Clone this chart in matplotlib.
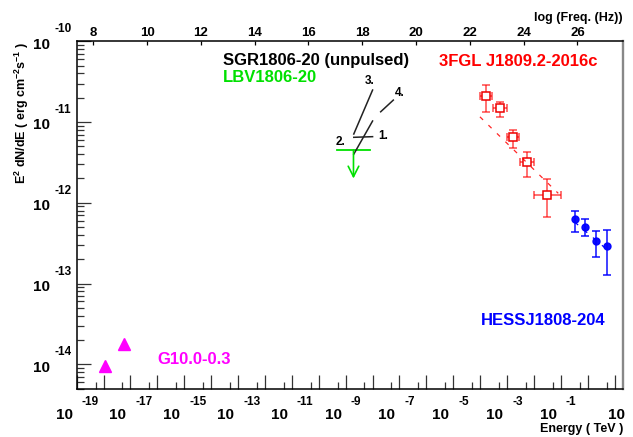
import numpy as np
import matplotlib
matplotlib.use("Agg")
import matplotlib.pyplot as plt
from matplotlib import transforms
from matplotlib.ticker import FixedLocator, NullFormatter

plt.rcParams['font.family'] = ['Liberation Sans', 'DejaVu Sans']
plt.rcParams['font.weight'] = 'bold'
plt.rcParams['mathtext.fontset'] = 'custom'
plt.rcParams['mathtext.rm'] = 'Liberation Sans:bold'
plt.rcParams['mathtext.it'] = 'Liberation Sans:bold'
plt.rcParams['mathtext.bf'] = 'Liberation Sans:bold'
plt.rcParams['mathtext.default'] = 'rm'

# energies in TeV, fluxes E^2 dN/dE in erg cm^-2 s^-1
# G10.0-0.3 (radio)
g10_e = [1.16e-18, 5.6e-18]
g10_f = [9.5e-15, 1.78e-14]

# LBV1806-20 upper limit, 0.5-8 keV
lbv_e_lo, lbv_e_hi, lbv_e = 4.9e-10, 8.0e-9, 1.95e-9
lbv_ul = 4.5e-12
lbv_tip = 2.0e-12

# SGR1806-20 unpulsed power-law segments 1..4
sgr_e_lo = [2.0e-9, 2.0e-9, 2.0e-9, 2.0e-8]
sgr_e_hi = [1.0e-8, 1.0e-8, 1.0e-8, 5.9e-8]
sgr_f_lo = [6.47e-12, 4.0e-12, 7.11e-12, 1.34e-11]
sgr_f_hi = [6.59e-12, 1.03e-11, 2.49e-11, 1.87e-11]

# 3FGL J1809.2-2016c
fgl_e = [1.6e-4, 5.44e-4, 1.61e-3, 5.36e-3, 3.12e-2]
fgl_e_lo = [1.0e-4, 3.07e-4, 9.7e-4, 3.02e-3, 1.0e-2]
fgl_e_hi = [2.75e-4, 9.66e-4, 2.84e-3, 1.0e-2, 9.8e-2]
fgl_f = [2.12e-11, 1.51e-11, 6.47e-12, 3.18e-12, 1.25e-12]
fgl_f_lo = [1.34e-11, 1.16e-11, 4.73e-12, 2.10e-12, 6.73e-13]
fgl_f_hi = [2.88e-11, 1.79e-11, 7.97e-12, 4.30e-12, 1.95e-12]
fgl_fit_e = [9.8e-5, 8.0e-2]
fgl_fit_f = [1.16e-11, 1.31e-12]

# HESS J1808-204
hess_e = [0.334, 0.767, 2.02, 5.31]
hess_f = [6.25e-13, 5.06e-13, 3.37e-13, 2.92e-13]
hess_f_lo = [4.31e-13, 3.88e-13, 2.11e-13, 1.28e-13]
hess_f_hi = [7.98e-13, 6.25e-13, 4.52e-13, 4.60e-13]
hess_fit_e = [0.33, 5.3]
hess_fit_f = [5.75e-13, 2.62e-13]

x_exps = list(range(-19, 2))
y_exps = [-10, -11, -12, -13, -14]
freq_ticks = [8, 10, 12, 14, 16, 18, 20, 22, 24, 26]
LOG_HZ_PER_TEV = np.log10(1e12 / 4.135667e-15)

W, H = 633, 437
fig = plt.figure(figsize=(W / 100, H / 100), dpi=100)
L, R, T, B = 76.7, 623.0, 41.3, 389.3
ax = fig.add_axes([L / W, 1 - B / H, (R - L) / W, (B - T) / H])
ax.set_xscale('log')
ax.set_yscale('log')
xmin, xmax = 1e-19, 10 ** 1.31
ax.set_xlim(xmin, xmax)
ax.set_ylim(4.9e-15, 1e-10)

green = '#00e000'
red = '#ff0000'
blue = '#0000ff'
mag = '#ff00ff'

# radio
ax.plot(g10_e, g10_f, ls='none', marker='^', ms=8, color=mag, mec=mag)

# LBV upper limit
ax.plot([lbv_e_lo, lbv_e_hi], [lbv_ul, lbv_ul], color=green, lw=1.3)
ax.annotate('', xy=(lbv_e, lbv_tip), xytext=(lbv_e, lbv_ul),
            arrowprops=dict(arrowstyle='->,head_length=0.75,head_width=0.38',
                            color=green, lw=1.2, shrinkA=0, shrinkB=0))

# SGR segments
for i in range(4):
    ax.plot([sgr_e_lo[i], sgr_e_hi[i]], [sgr_f_lo[i], sgr_f_hi[i]],
            color='#222222', lw=1.1)

# Fermi
fe = np.array(fgl_e)
ff = np.array(fgl_f)
ax.errorbar(fe, ff,
            xerr=[fe - np.array(fgl_e_lo), np.array(fgl_e_hi) - fe],
            yerr=[ff - np.array(fgl_f_lo), np.array(fgl_f_hi) - ff],
            fmt='none', ecolor=red, elinewidth=1.2, capsize=2.8, capthick=1.2,
            alpha=0.65)
ax.plot(fe, ff, ls='none', marker='s', ms=5.8, mfc='white', mec='#ee0000',
        mew=1.1)
ax.plot(fgl_fit_e, fgl_fit_f, color=red, lw=0.9, dashes=(3.5, 6), alpha=0.85)

# HESS
he = np.array(hess_e)
hf = np.array(hess_f)
ax.plot(hess_fit_e, hess_fit_f, color=blue, lw=0.9, dashes=(3.5, 6))
ax.errorbar(he, hf, yerr=[hf - np.array(hess_f_lo), np.array(hess_f_hi) - hf],
            fmt='o', color=blue, ms=5, elinewidth=1.1, capsize=3, capthick=1.1,
            alpha=0.95)

# axis ticks
ax.xaxis.set_major_locator(FixedLocator([10.0 ** e for e in x_exps]))
ax.xaxis.set_minor_locator(FixedLocator([5 * 10.0 ** e for e in x_exps]))
ax.xaxis.set_major_formatter(NullFormatter())
ax.xaxis.set_minor_formatter(NullFormatter())
ax.yaxis.set_major_locator(FixedLocator([10.0 ** e for e in range(-15, -9)]))
ax.yaxis.set_minor_locator(FixedLocator([m * 10.0 ** e for e in range(-15, -10)
                                         for m in range(2, 10)]))
ax.yaxis.set_major_formatter(NullFormatter())
ax.yaxis.set_minor_formatter(NullFormatter())
ax.tick_params(which='major', direction='in', length=10, width=0.9,
               top=False, right=False, color='#333333')
ax.tick_params(which='minor', direction='in', length=5, width=0.9,
               top=False, right=False, color='#333333')
for s in ['left', 'bottom', 'top']:
    ax.spines[s].set_linewidth(1.1)
ax.spines['right'].set_color('#888888')
ax.spines['right'].set_linewidth(1.7)

# ROOT style tick labels
bt = transforms.blended_transform_factory(ax.transData, ax.transAxes)
for e in x_exps:
    if e % 2 == 0:
        continue
    x = 10.0 ** e
    if e == 1:
        ax.text(x, 0, '10', fontsize=11, ha='center', va='baseline',
                transform=transforms.offset_copy(bt, fig=fig, x=1.6, y=-29.4, units='dots'))
        continue
    ax.text(x, 0, '10', fontsize=11, ha='right', va='baseline',
            transform=transforms.offset_copy(bt, fig=fig, x=-4, y=-29.4, units='dots'))
    ax.text(x, 0, str(e), fontsize=8.5, ha='left', va='baseline',
            transform=transforms.offset_copy(bt, fig=fig, x=5, y=-16, units='dots'))

lt = transforms.blended_transform_factory(ax.transAxes, ax.transData)
for e in y_exps:
    y = 10.0 ** e
    ax.text(0, y, '10', fontsize=11, ha='right', va='baseline',
            transform=transforms.offset_copy(lt, fig=fig, x=-26.7, y=-7.3, units='dots'))
    ax.text(0, y, str(e), fontsize=8.5, ha='left', va='baseline',
            transform=transforms.offset_copy(lt, fig=fig, x=-22.4, y=9, units='dots'))

# top axis: log frequency
ax2 = ax.twiny()
ax2.set_xlim(np.log10(xmin) + LOG_HZ_PER_TEV, np.log10(xmax) + LOG_HZ_PER_TEV)
ax2.set_xticks(freq_ticks)
ax2.set_xticklabels([str(t) for t in freq_ticks])
ax2.tick_params(axis='x', direction='in', length=3, width=0.9, pad=1.5,
                labelsize=9.5)
for s in ax2.spines.values():
    s.set_visible(False)

def px(x, y):
    return x / W, 1 - y / H

fig.text(*px(623, 18.5), 'log (Freq. (Hz))', fontsize=9, ha='right', va='center')
fig.text(*px(623, 429), 'Energy ( TeV )', fontsize=9, ha='right', va='center')
fig.text(*px(22, 41.7), r'E$^{2}$ dN/dE ( erg cm$^{-2}$s$^{-1}$ )', fontsize=9,
         rotation=90, ha='center', va='top')

fig.text(*px(223, 61), 'SGR1806-20 (unpulsed)', fontsize=12, ha='left',
         va='center', color='black')
fig.text(*px(223, 78), 'LBV1806-20', fontsize=12, ha='left', va='center',
         color=green)
fig.text(*px(439, 61), '3FGL J1809.2-2016c', fontsize=12, ha='left',
         va='center', color=red)
fig.text(*px(480.7, 320.3), 'HESSJ1808-204', fontsize=12, ha='left',
         va='center', color=blue)
fig.text(*px(157.3, 360), 'G10.0-0.3', fontsize=12, ha='left', va='center',
         color=mag)

for lab, xx, yy in [('1.', 383.3, 136), ('2.', 340, 141.7), ('3.', 369.3, 80.7),
                    ('4.', 400, 93.3)]:
    fig.text(*px(xx, yy), lab, fontsize=8.5, ha='center', va='center')

fig.savefig('out.png', dpi=100)
